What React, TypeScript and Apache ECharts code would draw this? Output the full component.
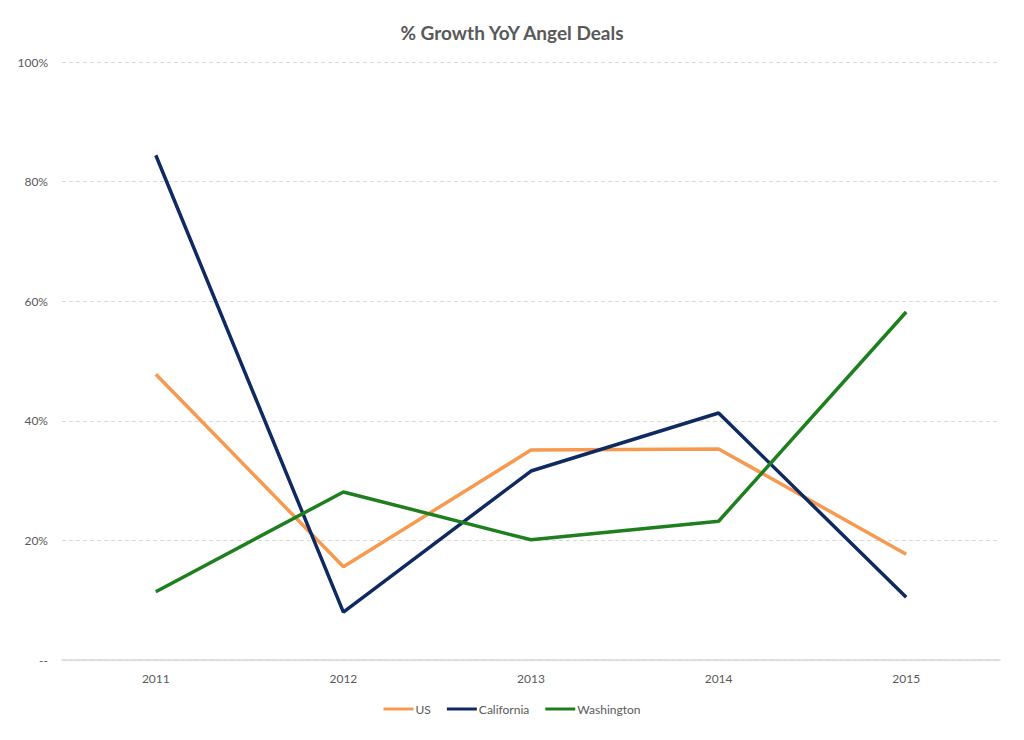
import React, { useEffect, useRef } from "react";
import * as echarts from "echarts";

const years = ["2011", "2012", "2013", "2014", "2015"];
const us = [47.8, 15.6, 35.1, 35.3, 17.7];
const california = [84.4, 8.0, 31.6, 41.3, 10.5];
const washington = [11.4, 28.1, 20.1, 23.2, 58.2];

export default function App() {
  const ref = useRef<HTMLDivElement>(null);
  useEffect(() => {
    if (!ref.current) return;
    const chart = echarts.init(ref.current, null, { renderer: "svg" });
    const font = "Lato, 'Open Sans', sans-serif";
    chart.setOption({
      animation: false,
      backgroundColor: "#ffffff",
      title: {
        text: "% Growth YoY Angel Deals",
        left: "center",
        top: 18,
        textStyle: { fontFamily: font, fontSize: 19, fontWeight: "bold", color: "#595959" },
      },
      grid: { left: 62, right: 24, top: 62, bottom: 80 },
      legend: {
        bottom: 20,
        left: "center",
        itemWidth: 30,
        itemHeight: 3,
        itemGap: 16,
        icon: "rect",
        textStyle: { fontFamily: font, fontSize: 12, color: "#595959", padding: [0, 0, 0, -3] },
        data: ["US", "California", "Washington"],
      },
      xAxis: {
        type: "category",
        data: years,
        boundaryGap: true,
        axisLine: { lineStyle: { color: "#d9d9d9", width: 1.5 } },
        axisTick: { show: false },
        axisLabel: { fontFamily: font, fontSize: 12, color: "#595959", margin: 12 },
      },
      yAxis: {
        type: "value",
        min: 0,
        max: 100,
        interval: 20,
        axisLine: { show: false },
        axisTick: { show: false },
        axisLabel: {
          fontFamily: font,
          fontSize: 12,
          color: "#595959",
          margin: 14,
          formatter: (v: number) => (v === 0 ? "--" : v + "%"),
        },
        splitLine: { lineStyle: { color: "#d9d9d9", type: [4, 3], width: 1 } },
      },
      series: [
        { name: "US", type: "line", data: us, symbol: "none", lineStyle: { width: 3.5, color: "#f79a50" }, itemStyle: { color: "#f79a50" } },
        { name: "California", type: "line", data: california, symbol: "none", lineStyle: { width: 3.5, color: "#0f2a60" }, itemStyle: { color: "#0f2a60" } },
        { name: "Washington", type: "line", data: washington, symbol: "none", lineStyle: { width: 3.5, color: "#1f7f1f" }, itemStyle: { color: "#1f7f1f" } },
      ],
    });
    return () => chart.dispose();
  }, []);
  return <div ref={ref} style={{ position: "fixed", left: 0, top: 0, width: 1024, height: 740 }} />;
}
